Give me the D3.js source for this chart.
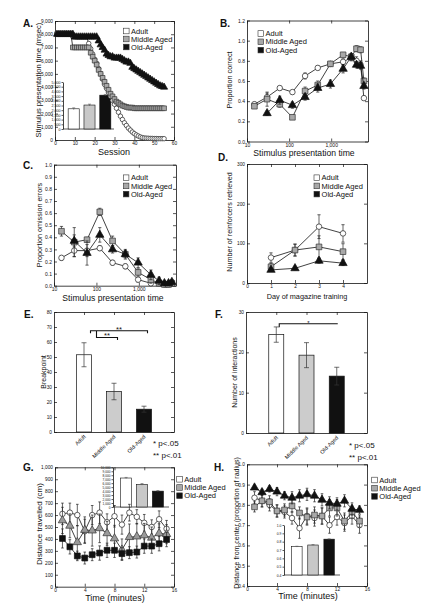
<!DOCTYPE html>
<html><head><meta charset="utf-8">
<script src="https://cdn.jsdelivr.net/npm/d3@7"></script>
<style>
body{margin:0;background:#fff;}
svg{display:block;font-family:"Liberation Sans",Arial,Helvetica,sans-serif;}
</style></head><body>
<svg id="fig" width="429" height="613"></svg>
<script>
const groups = ["Adult", "Middle Aged", "Old-Aged"];

// ---- Panel A: stimulus presentation time by session ----
const sessions = [1,2,3,4,5,6,7,8,9,10,11,12,13,14,15,16,17,18,19,20,21,22,23,24,25,26,27,28,29,30,31,32,33,34,35,36,37,38,39,40,41,42,43,44,45,46,47,48,49,50,51,52,53,54,55];
const aAdult = [8000,8000,8000,8000,8000,8000,8000,8000,7800,7800,7800,7800,7800,7800,7800,7800,7300,6900,6500,6100,5800,5400,5000,4600,4200,3900,3600,3300,3000,2700,2400,2100,1800,1550,1300,1100,900,750,600,480,380,300,230,180,150,140,130,120,120,110,110,100,100,100,100];
const aMiddle = [8000,8000,8000,8000,8000,8000,8000,8000,7000,7000,7000,7000,7000,7000,7000,7000,7000,6600,6300,6000,5700,5300,5000,4700,4400,4100,3800,3500,3300,3100,2900,2800,2700,2600,2550,2500,2450,2450,2450,2400,2400,2400,2400,2400,2400,2400,2400,2400,2400,2400,2400,2400,2400,2400,2400];
const aOld = [8000,8000,8000,8000,8000,8000,8000,8000,8000,7800,7800,7800,7800,7800,7800,7800,7800,7800,7800,7800,7800,7500,7200,7000,6800,6500,6400,6300,6300,6200,6200,6200,6200,6100,6000,5900,5900,5800,5500,5400,5300,5200,5100,5000,4900,4800,4700,4600,4500,4400,4300,4200,4100,4050,4000];
const aInsetMeans = [2150, 2550, 3600];
const aInsetErr = [100, 90, 80];
const aInsetTicks = [0,500,1000,1500,2000,2500,3000,3500,4000,4500,5000];
const aXTicks = [0,10,20,30,40,50,60];
const aYTicks = [0,1000,2000,3000,4000,5000,6000,7000,8000,9000];

// ---- Panels B & C: by stimulus presentation time ----
const presTimes = [15,30,60,120,240,480,960,1920,3000,4000,5000,6000];
const logTicks = [10,100,1000];
const bAdult = [0.37,0.44,0.53,0.49,0.65,0.73,0.77,0.79,0.83,0.80,0.76,0.43];
const bAdultErr = [0.02,0.04,0.02,0.02,0.03,0.02,0.02,0.03,0.03,0.04,0.04,0.02];
const bMiddle = [0.35,0.42,0.37,0.24,0.50,0.56,0.77,0.86,0.84,0.92,0.91,0.60];
const bMiddleErr = [0.02,0.07,0.03,0.02,0.04,0.04,0.02,0.02,0.03,0.03,0.03,0.03];
const bOld = [null,0.28,0.41,0.36,0.44,0.53,0.57,0.72,0.84,0.76,0.75,0.55];
const bOldErr = [0,0.02,0.04,0.03,0.03,0.04,0.04,0.04,0.03,0.03,0.03,0.03];
const bYTicks = [0,0.2,0.4,0.6,0.8,1.0,1.2];

const cAdult = [0.23,0.29,0.29,0.31,0.19,0.16,0.05,0.02,0.03,0.01,0.01,0.02];
const cAdultErr = [0.02,0.05,0.05,0.02,0.02,0.02,0.02,0.01,0.02,0.01,0.01,0.01];
const cMiddle = [0.45,0.36,0.38,0.61,0.37,0.26,0.11,0.05,0.02,0.01,0.01,0.02];
const cMiddleErr = [0.04,0.12,0.02,0.03,0.04,0.03,0.03,0.03,0.02,0.01,0.01,0.01];
const cOld = [null,0.37,0.27,0.42,0.30,0.26,0.19,0.09,0.04,0.02,0.02,0.03];
const cOldErr = [0,0.05,0.10,0.06,0.03,0.04,0.04,0.04,0.03,0.02,0.02,0.02];
const cYTicks = [0,0.1,0.2,0.3,0.4,0.5,0.6,0.7,0.8,0.9,1.0];

// ---- Panel D: magazine training ----
const days = [1,2,3,4];
const dAdult = [64,83,142,125];
const dAdultErr = [12,15,30,22];
const dMiddle = [41,83,91,79];
const dMiddleErr = [8,15,28,20];
const dOld = [33,37,56,50];
const dOldErr = [4,4,6,6];
const dXTicks = [0,1,2,3,4];
const dYTicks = [0,100,200,300];

// ---- Panels E & F: bars ----
const eMeans = [51.5, 27, 15.2];
const eErr = [8, 5.5, 2];
const eYTicks = [0,10,20,30,40,50,60,70,80];
const fMeans = [24.4, 19.3, 14.1];
const fErr = [1.9, 3.1, 2.2];
const fYTicks = [0,10,20,30];

// ---- Panels G & H: open field ----
const minutes = [1,2,3,4,5,6,7,8,9,10,11,12,13,14,15];
const timeTicks = [0,4,8,12,16];
const gAdult = [610,620,600,465,600,620,540,590,520,620,585,535,500,565,485];
const gAdultErr = [90,80,90,100,80,90,70,90,80,70,60,70,60,70,70];
const gMiddle = [555,510,372,475,470,489,447,404,310,415,420,430,410,447,440];
const gMiddleErr = [110,100,140,110,130,120,100,110,90,110,110,100,90,80,80];
const gOld = [404,334,258,240,268,282,305,305,277,285,290,340,340,360,395];
const gOldErr = [80,60,40,50,50,60,60,60,50,50,50,60,60,60,60];
const gYTicks = [0,100,200,300,400,500,600,700,800,900,1000];
const gInsetMeans = [7300, 5700, 4000];
const gInsetErr = [150, 200, 150];
const gInsetTicks = [0,1000,2000,3000,4000,5000,6000,7000,8000,9000,10000];

const hAdult = [0.835,0.82,0.80,0.77,0.765,0.735,0.685,0.745,0.735,0.745,0.70,0.74,0.71,0.745,0.70];
const hAdultErr = [0.03,0.03,0.03,0.03,0.03,0.03,0.05,0.04,0.04,0.04,0.04,0.04,0.04,0.04,0.04];
const hMiddle = [0.79,0.82,0.815,0.77,0.775,0.795,0.76,0.74,0.75,0.745,0.785,0.785,0.72,0.765,0.72];
const hMiddleErr = [0.025,0.03,0.03,0.03,0.03,0.03,0.03,0.04,0.04,0.04,0.04,0.04,0.04,0.03,0.03];
const hOld = [0.885,0.862,0.878,0.865,0.845,0.835,0.845,0.852,0.845,0.825,0.81,0.805,0.82,0.78,0.775];
const hOldErr = [0.01,0.015,0.015,0.02,0.02,0.03,0.03,0.03,0.03,0.03,0.03,0.03,0.03,0.03,0.02];
const hYTicks = [0.4,0.5,0.6,0.7,0.8,0.9,1.0];
const hInsetMeans = [0.74, 0.76, 0.83];
const hInsetErr = [0.005, 0.005, 0.004];
const hInsetTicks = [0.4,0.5,0.6,0.7,0.8,0.9,1.0];

// ================= drawing =================
const svg = d3.select("#fig");
const root = svg.append("g");
const INK = "#111";
const keyFill = ["#ffffff", "#a8a8a8", "#111111"];

function styleAxis(sel, fs) {
  sel.attr("font-family", null).attr("font-size", fs);
  sel.selectAll("path.domain").attr("stroke", INK).attr("stroke-width", 0.8);
  sel.selectAll(".tick line").attr("stroke", INK).attr("stroke-width", 0.7);
  sel.selectAll(".tick text").attr("fill", INK);
}

function frame(x, y, o) {
  const g = root.append("g");
  const x0 = d3.min(x.range()), x1 = d3.max(x.range());
  const yb = d3.max(y.range()), yt = d3.min(y.range());
  const fs = o.fs || 5;
  g.append("g").attr("transform", `translate(${x0},0)`)
    .call(d3.axisLeft(y).tickValues(o.yTicks).tickFormat(o.yFmt).tickSizeInner(-3).tickSizeOuter(0).tickPadding(2))
    .call(styleAxis, fs);
  g.append("g").attr("transform", `translate(${x1},0)`)
    .call(d3.axisRight(y).tickValues(o.yTicks).tickFormat("").tickSizeInner(-3).tickSizeOuter(0))
    .call(styleAxis, fs);
  g.append("g").attr("transform", `translate(0,${yb})`)
    .call(d3.axisBottom(x).tickValues(o.xTicks).tickFormat(o.xFmt).tickSizeInner(-3).tickSizeOuter(0).tickPadding(2))
    .call(styleAxis, fs);
  g.append("g").attr("transform", `translate(0,${yt})`)
    .call(d3.axisTop(x).tickValues(o.topTicks || o.xTicks).tickFormat("").tickSizeInner(-3).tickSizeOuter(0))
    .call(styleAxis, fs);
  return g;
}

function series(x, y, xs, ys, errs, sym, cap) {
  const g = root.append("g");
  const pts = xs.map((xv, i) => ({x: xv, y: ys[i], e: errs ? errs[i] : 0})).filter(d => d.y != null);
  g.append("path").datum(pts)
    .attr("d", d3.line().x(d => x(d.x)).y(d => y(d.y)))
    .attr("fill", "none").attr("stroke", INK).attr("stroke-width", 0.8);
  const c = cap || 1.6;
  g.selectAll(null).data(pts.filter(d => d.e > 0)).join("path")
    .attr("d", d => {
      const cx = x(d.x), ya = y(d.y - d.e), yb = y(d.y + d.e);
      return `M${cx},${ya}V${yb}M${cx - c},${ya}H${cx + c}M${cx - c},${yb}H${cx + c}`;
    })
    .attr("fill", "none").attr("stroke", "#222").attr("stroke-width", 0.7);
  g.selectAll(null).data(pts).join("path")
    .attr("transform", d => `translate(${x(d.x)},${y(d.y)})`)
    .attr("d", d3.symbol(sym.type, sym.size))
    .attr("fill", sym.fill).attr("stroke", sym.stroke).attr("stroke-width", 0.7);
}

function legend(x, y, dy, fs) {
  const g = root.append("g");
  groups.forEach((name, i) => {
    g.append("rect").attr("x", x).attr("y", y + i * dy - 2.8).attr("width", 5.6).attr("height", 5.6)
      .attr("fill", keyFill[i]).attr("stroke", "#333").attr("stroke-width", 0.6);
    g.append("text").attr("x", x + 7.6).attr("y", y + i * dy).attr("dy", "0.35em")
      .attr("font-size", fs).attr("fill", INK).text(name);
  });
}

function txt(x, y, s, fs, o) {
  o = o || {};
  return root.append("text").attr("x", x).attr("y", y).attr("font-size", fs)
    .attr("text-anchor", o.anchor || "start").attr("font-weight", o.bold ? "bold" : null)
    .attr("fill", INK).text(s);
}
function ylab(cx, cy, s, fs) {
  root.append("text").attr("transform", `translate(${cx},${cy}) rotate(-90)`)
    .attr("text-anchor", "middle").attr("dy", "0.35em").attr("font-size", fs).attr("fill", INK).text(s);
}

function inset(xb, y, ticks, fmt, means, errs, fs) {
  const g = root.append("g");
  const x0 = d3.min(xb.range()) - 2, x1 = d3.max(xb.range());
  g.append("g").attr("transform", `translate(${x0},0)`)
    .call(d3.axisLeft(y).tickValues(ticks).tickFormat(fmt).tickSizeInner(1.5).tickSizeOuter(0).tickPadding(1))
    .call(styleAxis, fs);
  g.append("line").attr("x1", x0).attr("x2", x1).attr("y1", y.range()[0]).attr("y2", y.range()[0])
    .attr("stroke", INK).attr("stroke-width", 0.7);
  groups.forEach((gname, i) => {
    g.append("rect").attr("x", xb(gname)).attr("width", xb.bandwidth())
      .attr("y", y(means[i])).attr("height", y(y.domain()[0]) - y(means[i]))
      .attr("fill", i === 1 ? "#c8c8c8" : keyFill[i]).attr("stroke", INK).attr("stroke-width", 0.6);
    const cx = xb(gname) + xb.bandwidth() / 2;
    g.append("path").attr("d", `M${cx},${y(means[i] - errs[i])}V${y(means[i] + errs[i])}M${cx - 1.5},${y(means[i] + errs[i])}H${cx + 1.5}`)
      .attr("stroke", "#555").attr("stroke-width", 0.6).attr("fill", "none");
  });
}

const circ = {type: d3.symbolCircle, size: 24, fill: "#fff", stroke: "#222"};
const sq = {type: d3.symbolSquare, size: 32, fill: "#a8a8a8", stroke: "#333"};
const tri = {type: d3.symbolTriangle, size: 30, fill: "#111", stroke: "#111"};
const circS = {type: d3.symbolCircle, size: 16, fill: "#fff", stroke: "#222"};
const sqS = {type: d3.symbolSquare, size: 22, fill: "#a8a8a8", stroke: "#333"};
const triS = {type: d3.symbolTriangle, size: 22, fill: "#111", stroke: "#111"};

const fmtC = d3.format(",");
const fmt1 = d3.format(".1f");

// ---- A ----
{
  const x = d3.scaleLinear().domain([0, 60]).range([55, 174]);
  const y = d3.scaleLinear().domain([0, 9000]).range([140, 21]);
  frame(x, y, {xTicks: aXTicks, xFmt: d3.format("d"), yTicks: aYTicks, yFmt: fmtC, fs: 4.8});
  const xb = d3.scaleBand().domain(groups).range([65, 114]).paddingInner(0.3).paddingOuter(0.2);
  const yi = d3.scaleLinear().domain([0, 5000]).range([129, 82]);
  inset(xb, yi, aInsetTicks, fmtC, aInsetMeans, aInsetErr, 3.6);
  series(x, y, sessions, aAdult, null, circS);
  series(x, y, sessions, aMiddle, null, sqS);
  series(x, y, sessions, aOld, null, triS);
  legend(123.5, 31, 8, 7.5);
  txt(23, 27, "A.", 10, {bold: true});
  ylab(38.5, 80, "Stimulus presentation time (msec)", 7.6);
  txt(114, 154.5, "Session", 9, {anchor: "middle"});
}

// ---- B ----
{
  const x = d3.scaleLog().domain([10, 7500]).range([247, 368]);
  const y = d3.scaleLinear().domain([0, 1.2]).range([141.5, 20.5]);
  frame(x, y, {xTicks: logTicks, xFmt: fmtC, yTicks: bYTicks, yFmt: fmt1});
  series(x, y, presTimes, bAdult, bAdultErr, circ);
  series(x, y, presTimes, bMiddle, bMiddleErr, sq);
  series(x, y, presTimes, bOld, bOldErr, tri);
  legend(258, 33.5, 8.3, 7.5);
  txt(220, 27, "B.", 10, {bold: true});
  ylab(229.5, 80, "Proportion correct", 7.2);
  txt(304, 156, "Stimulus presentation time", 8.6, {anchor: "middle"});
}

// ---- C ----
{
  const x = d3.scaleLog().domain([10, 7500]).range([54, 176]);
  const y = d3.scaleLinear().domain([0, 1]).range([285.7, 164.7]);
  frame(x, y, {xTicks: logTicks, xFmt: fmtC, yTicks: cYTicks, yFmt: fmt1});
  series(x, y, presTimes, cAdult, cAdultErr, circ);
  series(x, y, presTimes, cMiddle, cMiddleErr, sq);
  series(x, y, presTimes, cOld, cOldErr, tri);
  legend(123.3, 177.7, 8.2, 7.5);
  txt(23, 169, "C.", 10, {bold: true});
  ylab(39, 225, "Proportion omission errors", 7.2);
  txt(113, 301, "Stimulus presentation time", 8.6, {anchor: "middle"});
}

// ---- D ----
{
  const x = d3.scaleLinear().domain([0, 5]).range([247, 367]);
  const y = d3.scaleLinear().domain([0, 300]).range([283, 164]);
  frame(x, y, {xTicks: dXTicks, xFmt: d3.format("d"), yTicks: dYTicks, yFmt: d3.format("d"), fs: 4.8});
  series(x, y, days, dAdult, dAdultErr, circ);
  series(x, y, days, dMiddle, dMiddleErr, sq);
  series(x, y, days, dOld, dOldErr, tri);
  legend(314, 177.7, 8.2, 7.5);
  txt(218, 161, "D.", 10, {bold: true});
  ylab(229.5, 222, "Number of reinforcers retrieved", 7.2);
  txt(307, 298.5, "Day of magazine training", 7.3, {anchor: "middle"});
}

// ---- bar panel helper ----
function barPanel(x0, x1, yb, yt, ymax, ticks, means, errs, letterX, letter, label, labelX) {
  const x = d3.scalePoint().domain(groups).range([x0, x1]).padding(1);
  const y = d3.scaleLinear().domain([0, ymax]).range([yb, yt]);
  frame(x, y, {xTicks: [], topTicks: groups, xFmt: "", yTicks: ticks, yFmt: d3.format("d"), fs: 4.8});
  const bw = 15;
  groups.forEach((gname, i) => {
    root.append("rect").attr("x", x(gname) - bw / 2).attr("width", bw)
      .attr("y", y(means[i])).attr("height", y(0) - y(means[i]))
      .attr("fill", i === 1 ? "#cccccc" : keyFill[i]).attr("stroke", INK).attr("stroke-width", 0.7);
    const cx = x(gname);
    root.append("path").attr("d", `M${cx},${y(means[i] - errs[i])}V${y(means[i] + errs[i])}M${cx - 2.5},${y(means[i] - errs[i])}H${cx + 2.5}M${cx - 2.5},${y(means[i] + errs[i])}H${cx + 2.5}`)
      .attr("stroke", "#333").attr("stroke-width", 0.7).attr("fill", "none");
    root.append("text").attr("transform", `translate(${cx + 2},${yb + 5}) rotate(-45)`)
      .attr("text-anchor", "end").attr("font-size", 5.5).attr("fill", INK).text(gname);
  });
  txt(letterX, yt + 6, letter, 10, {bold: true});
  ylab(labelX, (yb + yt) / 2, label, 7);
  return {x, y};
}

// ---- E ----
{
  const {x, y} = barPanel(54, 174, 432, 312, 80, eYTicks, eMeans, eErr, 24, "E.", "Breakpoint", 43.5);
  const xa = x(groups[0]) + 6.5, xm = x(groups[1]) + 3.5, xo = x(groups[2]) + 3.5, xi = x(groups[0]) + 12.5;
  const yo = y(67.5), yi = y(63);
  root.append("path").attr("d", `M${xa},${yo + 2.5}V${yo}H${xo}V${yo + 2.5}M${xi},${yo}V${yi}H${xm}V${yi + 2.5}`)
    .attr("fill", "none").attr("stroke", INK).attr("stroke-width", 1.1);
  txt((xa + xo) / 2, yo + 0.8, "**", 7.5, {anchor: "middle"});
  txt((xi + xm) / 2, yi + 0.8, "**", 7.5, {anchor: "middle"});
  txt(153, 446, "* p<.05", 8);
  txt(153, 458, "** p<.01", 8);
}

// ---- F ----
{
  const {x, y} = barPanel(246, 367, 433, 312, 30, fYTicks, fMeans, fErr, 215, "F.", "Number of interactions", 235);
  const xa = x(groups[0]) + 3, xo = x(groups[2]) + 1;
  const yl = y(27.1);
  root.append("path").attr("d", `M${xa},${yl + 3.5}V${yl}H${xo}`)
    .attr("fill", "none").attr("stroke", INK).attr("stroke-width", 1.1);
  txt((xa + xo) / 2, yl + 1, "*", 6, {anchor: "middle"});
  txt(349, 448, "* p<.05", 8);
  txt(349, 460, "** p<.01", 8);
}

// ---- G ----
{
  const x = d3.scaleLinear().domain([0, 16]).range([55, 174]);
  const y = d3.scaleLinear().domain([0, 1000]).range([586.7, 467.3]);
  frame(x, y, {xTicks: timeTicks, xFmt: d3.format("d"), yTicks: gYTicks, yFmt: fmtC, fs: 4.8});
  const xb = d3.scaleBand().domain(groups).range([115, 169]).paddingInner(0.3).paddingOuter(0.35);
  const yi = d3.scaleLinear().domain([0, 10000]).range([507, 467.3]);
  inset(xb, yi, gInsetTicks, fmtC, gInsetMeans, gInsetErr, 3.2);
  const triG = {type: d3.symbolTriangle, size: 30, fill: "#9a9a9a", stroke: "#333"};
  const sqG = {type: d3.symbolSquare, size: 34, fill: "#111", stroke: "#111"};
  series(x, y, minutes, gAdult, gAdultErr, circ, 1.3);
  series(x, y, minutes, gMiddle, gMiddleErr, triG, 1.3);
  series(x, y, minutes, gOld, gOldErr, sqG, 1.3);
  legend(176.7, 479.3, 8.2, 7.5);
  txt(23, 471, "G.", 10, {bold: true});
  ylab(39.5, 524, "Distance travelled (cm)", 8);
  txt(115, 601, "Time (minutes)", 9, {anchor: "middle"});
}

// ---- H ----
{
  const x = d3.scaleLinear().domain([0, 16]).range([247, 367]);
  const y = d3.scaleLinear().domain([0.4, 1.0]).range([586, 464.3]);
  frame(x, y, {xTicks: timeTicks, xFmt: d3.format("d"), yTicks: hYTicks, yFmt: fmt1, fs: 4.8});
  const xb = d3.scaleBand().domain(groups).range([286, 340]).paddingInner(0.35).paddingOuter(0.35);
  const yi = d3.scaleLinear().domain([0.4, 1.0]).range([575, 525]);
  inset(xb, yi, hInsetTicks, fmt1, hInsetMeans, hInsetErr, 3.4);
  series(x, y, minutes, hAdult, hAdultErr, circ, 1.3);
  series(x, y, minutes, hMiddle, hMiddleErr, sq, 1.3);
  series(x, y, minutes, hOld, hOldErr, tri, 1.3);
  legend(371.7, 480, 8.2, 7.5);
  txt(214, 471, "H.", 10, {bold: true});
  ylab(237, 523, "Distance from center (proportion of radius)", 7);
  txt(308, 599, "Time (minutes)", 9, {anchor: "middle"});
}
</script>
</body></html>
